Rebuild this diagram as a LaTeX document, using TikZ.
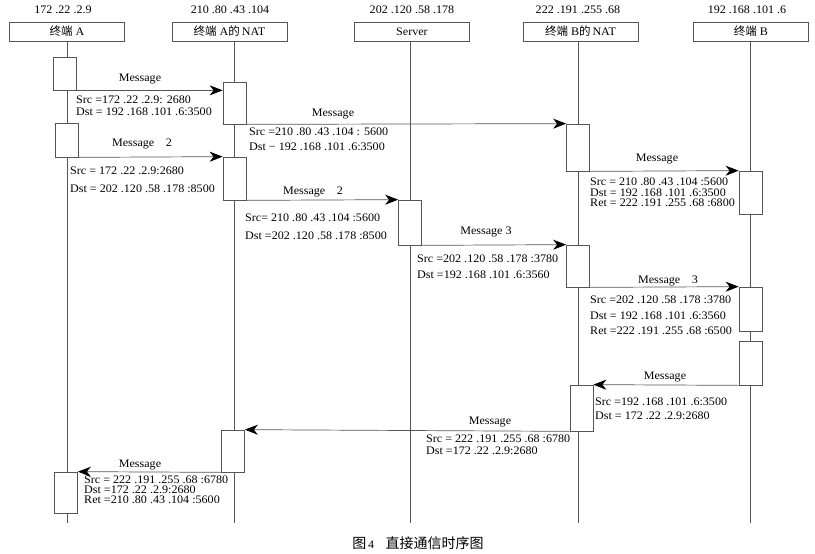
\documentclass[tikz,border=0pt]{standalone}
\usepackage{fontspec}
\setmainfont{Liberation Serif}[FakeStretch=1.05]
\newfontfamily\cjk{Noto Sans CJK SC}
\usetikzlibrary{arrows.meta}
\setlength{\lineskiplimit}{-20pt}
\definecolor{Trait}{HTML}{555555}

\begin{document}
\begin{tikzpicture}[x=1pt, y={(0pt,-1pt)}, font=\fontsize{11.5}{12}\selectfont,
  tete/.style={draw=Trait, line width=0.7, minimum width=115, minimum height=19, inner sep=0},
  act/.style={draw=Trait, fill=white, line width=0.7, minimum width=23, inner sep=0},
  vie/.style={draw=Trait, line width=0.7},
  msg/.style={draw=Trait, line width=0.7, -{Stealth[length=13pt, width=10pt, inset=4pt, color=black]}},
  txt/.style={anchor=north west, inner sep=0, align=left, font=\fontsize{11.5}{#1}\selectfont},
  lbl/.style={inner sep=0}]

 \useasboundingbox (0,0) rectangle (815,554);

 %%%%%%%%%% Entetes %%%%%%%%%%
 \node (ipA)  at (63,10)  {172 .22 .2.9};
 \node (ipNA) at (230,10) {210 .80 .43 .104};
 \node (ipS)  at (412,10) {202 .120 .58 .178};
 \node (ipNB) at (578,10) {222 .191 .255 .68};
 \node (ipB)  at (747,10) {192 .168 .101 .6};

 \node[tete] (hA)  at (67,31.5)    {{\cjk 终端}\ A};
 \node[tete] (hNA) at (229.5,31.5) {{\cjk 终端}\ A{\cjk 的}\,NAT};
 \node[tete] (hS)  at (412,31.5)   {Server};
 \node[tete] (hNB) at (580.5,31.5) {{\cjk 终端}\ B{\cjk 的}\,NAT};
 \node[tete] (hB)  at (751,31.5)   {{\cjk 终端}\ B};

 %%%%%%%%%% Lignes de vie %%%%%%%%%%
 \coordinate (fA)  at (67,523);
 \coordinate (fNA) at (234.5,523);
 \coordinate (fS)  at (410,523);
 \coordinate (fNB) at (578,523);
 \coordinate (fB)  at (750.5,523);

 \draw[vie] (hA.south -| fA) -- (fA);
 \draw[vie] (hNA.south -| fNA) -- (fNA);
 \draw[vie] (hS.south -| fS) -- (fS);
 \draw[vie] (hNB.south -| fNB) -- (fNB);
 \draw[vie] (hB.south -| fB) -- (fB);

 %%%%%%%%%% Activations %%%%%%%%%%
 \node[act, minimum height=33] (A1)  at (65,73.5)    {};
 \node[act, minimum height=42] (NA1) at (234.5,103)  {};
 \node[act, minimum height=34] (A2)  at (67,140)     {};
 \node[act, minimum height=43] (NA2) at (234.5,178.5){};
 \node[act, minimum height=45] (S1)  at (410,222.5)  {};
 \node[act, minimum height=47] (NB1) at (578,147.5)  {};
 \node[act, minimum height=42] (NB2) at (578,266)    {};
 \node[act, minimum height=43] (B1)  at (750.5,192.5){};
 \node[act, minimum height=44] (B2)  at (750.5,309)  {};
 \node[act, minimum height=44] (B3)  at (750.5,363)  {};
 \node[act, minimum height=46] (NB3) at (581.5,408)  {};
 \node[act, minimum height=42] (NA3) at (233,451)    {};
 \node[act, minimum height=41] (A3)  at (66,492.5)   {};

 %%%%%%%%%% Messages %%%%%%%%%%
 \draw[msg] (A1.south east) -- (A1.south east -| NA1.west);
 \draw[msg] (NA1.south east) -- (NB1.north west);
 \draw[msg] (A2.south east) -- (NA2.north west);
 \draw[msg] (NA2.south east) -- (S1.north west);
 \draw[msg] (S1.south east) -- (NB2.north west);
 \draw[msg] (NB1.south east) -- (B1.north west);
 \draw[msg] (NB2.south east) -- (B2.north west);
 \draw[msg] (B3.south west) -- (NB3.north east);
 \draw[msg] (NB3.south west) -- (NA3.north east);
 \draw[msg] (NA3.south west) -- (A3.north east);

 % Etiquettes
 \node[lbl] (m1)  at (140,79)  {Message};
 \node[lbl] (m2)  at (333,114) {Message};
 \node[lbl] (m3)  at (142,144) {Message\quad 2};
 \node[lbl] (m4)  at (313,192) {Message\quad 2};
 \node[lbl] (m5)  at (486,232) {Message 3};
 \node[lbl] (m6)  at (657,159) {Message};
 \node[lbl] (m7)  at (668,281) {Message\quad 3};
 \node[lbl] (m8)  at (665,377) {Message};
 \node[lbl] (m9)  at (490,422) {Message};
 \node[lbl] (m10) at (140,465) {Message};

 % Adresses
 \node[txt=12] (t1) at (76,96)
   {Src =172 .22 .2.9: 2680\\Dst = 192 .168 .101 .6:3500};
 \node[txt=15] (t2) at (249,128)
   {Src =210 .80 .43 .104 : 5600\\Dst − 192 .168 .101 .6:3500};
 \node[txt=18] (t3) at (70,167)
   {Src = 172 .22 .2.9:2680\\Dst = 202 .120 .58 .178 :8500};
 \node[txt=18] (t4) at (245,214)
   {Src= 210 .80 .43 .104 :5600\\Dst =202 .120 .58 .178 :8500};
 \node[txt=16] (t5) at (417,255)
   {Src =202 .120 .58 .178 :3780\\Dst =192 .168 .101 .6:3560};
 \node[txt=10.5] (t6) at (590,178)
   {Src = 210 .80 .43 .104 :5600\\Dst = 192 .168 .101 .6:3500\\Ret = 222 .191 .255 .68 :6800};
 \node[txt=15.5] (t7) at (590,296)
   {Src =202 .120 .58 .178 :3780\\Dst = 192 .168 .101 .6:3560\\Ret =222 .191 .255 .68 :6500};
 \node[txt=14] (t8) at (595,398)
   {Src =192 .168 .101 .6:3500\\Dst = 172 .22 .2.9:2680};
 \node[txt=12] (t9) at (426,435)
   {Src = 222 .191 .255 .68 :6780\\Dst =172 .22 .2.9:2680};
 \node[txt=10] (t10) at (84,476)
   {Src = 222 .191 .255 .68 :6780\\Dst =172 .22 .2.9:2680\\Ret =210 .80 .43 .104 :5600};

 %%%%%%%%%% Legende %%%%%%%%%%
 \node (leg) at (418,543) {{\cjk\fontsize{14}{15}\selectfont 图}\,4\quad{\cjk\fontsize{14}{15}\selectfont 直接通信时序图}};

\end{tikzpicture}
\end{document}
